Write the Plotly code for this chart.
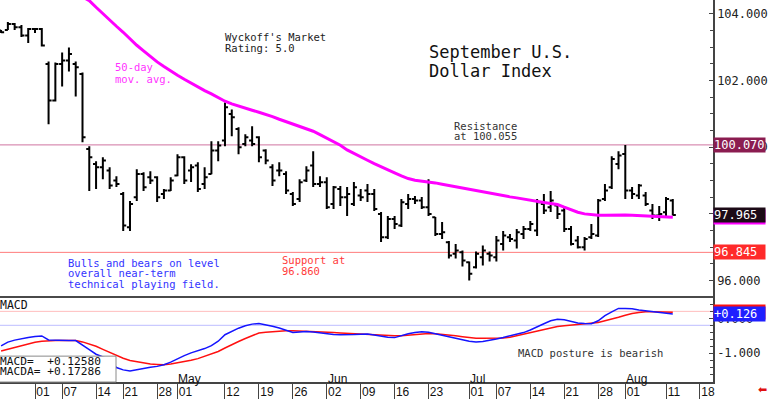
import pandas as pd
import plotly.graph_objects as go

# ---------------- categories (trading days; Good Friday closed) ----------------
HOLIDAYS = ["2025-04-18"]
axis_dates = [d.strftime("%Y-%m-%d") for d in pd.bdate_range("2025-03-25", "2025-08-22")
              if d.strftime("%Y-%m-%d") not in HOLIDAYS]

# ---------------- September U.S. Dollar Index daily bars ----------------
opens = [103.50, 103.52, 103.70, 103.60, 103.35,
         103.55, 103.55, 102.50, 101.40, 102.50, 102.60, 102.50, 102.20, 99.95, 99.50,
         99.40, 99.30, 99.00, 98.60, 97.60, 98.50, 99.20, 99.10, 99.10, 98.60,
         98.70, 99.15, 99.70, 99.30, 99.45, 98.90, 99.20, 99.90, 100.20, 101.00,
         100.55, 100.10, 100.20, 100.30, 99.90, 99.40, 99.30, 99.20, 98.60, 98.45,
         99.00, 99.45, 98.90, 98.95, 98.30, 98.75, 98.50, 98.30, 98.55, 98.70,
         98.60, 98.00, 97.30, 97.85, 97.65, 98.30, 98.45, 98.40, 98.20, 97.90,
         97.40, 97.15, 96.80, 96.85, 96.55, 96.40, 96.70, 96.80, 96.70, 97.10,
         97.30, 97.20, 97.40, 97.55, 97.50, 98.30, 98.20, 98.25, 98.10, 97.55,
         97.20, 97.00, 97.30, 97.35, 98.45, 98.80, 99.50, 99.80, 98.70, 98.55,
         98.55, 98.10, 97.95, 98.05, 98.40]
highs = [103.52, 103.76, 103.73, 103.67, 103.58,
         103.58, 103.58, 102.57, 102.54, 102.84, 102.99, 102.57, 102.24, 100.03, 99.58,
         99.70, 99.40, 99.13, 98.66, 98.39, 99.34, 99.25, 99.28, 99.13, 98.75,
         99.10, 99.79, 99.73, 99.49, 99.55, 99.40, 100.18, 100.18, 101.34, 101.13,
         100.60, 100.39, 100.63, 100.33, 99.94, 99.49, 99.55, 99.28, 98.66, 99.04,
         99.43, 99.88, 99.13, 99.10, 98.84, 98.84, 98.81, 98.96, 98.75, 98.90,
         98.75, 98.06, 97.94, 97.94, 98.45, 98.60, 98.54, 98.51, 99.04, 97.91,
         97.76, 97.19, 97.10, 96.90, 96.57, 96.87, 97.05, 96.87, 97.34, 97.49,
         97.40, 97.55, 97.64, 97.79, 98.45, 98.60, 98.69, 98.30, 98.24, 97.64,
         97.34, 97.31, 97.70, 98.45, 98.90, 99.73, 99.88, 100.07, 98.81, 98.90,
         98.66, 98.30, 98.24, 98.51, 98.45]
lows = [103.43, 103.52, 103.52, 103.31, 103.13,
        103.43, 103.02, 100.69, 101.37, 101.82, 102.27, 101.52, 100.15, 98.69, 98.75,
        99.04, 98.75, 98.81, 97.49, 97.49, 98.39, 98.69, 98.90, 98.36, 98.45,
        98.69, 99.13, 98.90, 98.96, 98.66, 98.75, 99.19, 99.58, 100.03, 100.33,
        99.79, 100.03, 100.03, 99.55, 99.49, 98.84, 99.13, 98.60, 98.24, 98.36,
        98.96, 98.81, 98.81, 98.15, 98.15, 98.24, 97.94, 98.24, 98.39, 98.36,
        98.09, 97.16, 97.25, 97.55, 97.61, 98.15, 98.30, 98.15, 97.94, 97.34,
        97.25, 96.66, 96.66, 96.42, 96.00, 96.36, 96.45, 96.57, 96.57, 96.90,
        97.16, 96.96, 97.25, 97.49, 97.34, 98.00, 98.06, 97.85, 97.46, 97.05,
        96.96, 96.90, 97.25, 97.31, 98.39, 98.75, 99.34, 98.45, 98.45, 98.45,
        98.24, 97.85, 97.79, 97.91, 97.95]
closes = [103.45, 103.70, 103.60, 103.35, 103.55,
          103.55, 103.05, 101.40, 102.50, 102.60, 102.80, 102.40, 100.30, 99.70, 99.40,
          99.60, 98.85, 98.90, 97.65, 98.30, 99.20, 98.80, 99.00, 98.50, 98.70,
          99.00, 99.70, 99.00, 99.40, 98.75, 99.10, 99.90, 100.05, 101.20, 100.90,
          100.00, 100.30, 100.10, 99.70, 99.60, 99.00, 99.30, 98.70, 98.30, 98.95,
          99.30, 98.90, 98.95, 98.20, 98.80, 98.50, 98.60, 98.80, 98.50, 98.60,
          98.15, 97.30, 97.85, 97.70, 98.35, 98.45, 98.40, 98.20, 98.00, 97.40,
          97.45, 96.75, 96.90, 96.60, 96.20, 96.80, 96.90, 96.75, 97.20, 97.35,
          97.25, 97.45, 97.55, 97.70, 98.35, 98.10, 98.40, 98.00, 97.55, 97.10,
          97.00, 97.25, 97.40, 98.40, 98.70, 99.65, 99.75, 98.70, 98.60, 98.85,
          98.30, 97.95, 98.00, 98.45, 97.965]

# 50-day moving average (None where above the visible range / not drawn)
ma50 = [None] * 11 + [
    104.62, 104.51, 104.40, 104.20, 104.00, 103.82, 103.63, 103.45, 103.24, 103.06,
    102.89, 102.72, 102.56, 102.42, 102.28, 102.16, 102.04, 101.92, 101.81, 101.70,
    101.60, 101.48, 101.38, 101.30, 101.23, 101.17, 101.11, 101.05, 100.99, 100.92,
    100.84, 100.77, 100.69, 100.63, 100.57, 100.48, 100.38, 100.27, 100.16, 100.06,
    99.92, 99.81, 99.71, 99.61, 99.51, 99.41, 99.32, 99.23, 99.14, 99.06,
    99.01, 98.99, 98.96, 98.93, 98.89, 98.85, 98.81, 98.78, 98.74, 98.70,
    98.66, 98.62, 98.59, 98.55, 98.51, 98.48, 98.44, 98.40, 98.37, 98.34,
    98.31, 98.28, 98.20, 98.12, 98.05, 98.00, 97.97, 97.96, 97.96, 97.97,
    97.97, 97.97, 97.96, 97.95, 97.94, 97.93, 97.92, 97.91, 97.90]

# MACD and its signal line (MACDA)
macd = [-0.791, -0.683, -0.626, -0.583, -0.549, -0.520, -0.506, -0.620, -0.631, -0.637,
        -0.637, -0.637, -0.757, -0.900, -1.031, -1.114, -1.189, -1.414, -1.480, -1.511,
        -1.469, -1.434, -1.406, -1.380, -1.334, -1.257, -1.157, -1.071, -0.991, -0.940,
        -0.869, -0.783, -0.657, -0.471, -0.369, -0.283, -0.214, -0.166, -0.146, -0.180,
        -0.229, -0.280, -0.337, -0.409, -0.394, -0.380, -0.391, -0.417, -0.457, -0.463,
        -0.471, -0.477, -0.466, -0.457, -0.451, -0.480, -0.511, -0.546, -0.554, -0.497,
        -0.443, -0.406, -0.383, -0.397, -0.437, -0.477, -0.517, -0.569, -0.617, -0.660,
        -0.683, -0.663, -0.637, -0.591, -0.549, -0.500, -0.449, -0.409, -0.334, -0.234,
        -0.154, -0.071, -0.026, -0.043, -0.091, -0.131, -0.151, -0.154, -0.071, 0.077,
        0.186, 0.286, 0.286, 0.274, 0.240, 0.214, 0.191, 0.163, 0.137, 0.12580]
macda = [-0.940, -0.886, -0.829, -0.777, -0.729, -0.686, -0.657, -0.637, -0.637, -0.637,
         -0.637, -0.637, -0.677, -0.734, -0.803, -0.891, -0.977, -1.060, -1.146, -1.209,
         -1.249, -1.286, -1.311, -1.323, -1.331, -1.309, -1.280, -1.249, -1.203, -1.157,
         -1.094, -1.026, -0.951, -0.851, -0.751, -0.666, -0.580, -0.497, -0.420, -0.400,
         -0.380, -0.363, -0.354, -0.357, -0.363, -0.369, -0.377, -0.386, -0.397, -0.409,
         -0.420, -0.431, -0.446, -0.457, -0.469, -0.480, -0.491, -0.497, -0.503, -0.500,
         -0.480, -0.460, -0.443, -0.434, -0.446, -0.460, -0.474, -0.500, -0.526, -0.551,
         -0.571, -0.571, -0.571, -0.571, -0.566, -0.540, -0.497, -0.451, -0.403, -0.357,
         -0.314, -0.271, -0.234, -0.211, -0.189, -0.169, -0.149, -0.134, -0.120, -0.069,
         -0.026, 0.029, 0.086, 0.140, 0.166, 0.189, 0.186, 0.180, 0.171, 0.17286]

# levels
resistance_level = 100.070
support_level = 96.845
macd_upper_ref = 0.2
macd_lower_ref = -0.2

# axis ticks
price_ticks = [96, 98, 100, 102, 104]
macd_ticks = [-1, 0]
macd_tick_text = ["-1.000", "0.000"]
tick_dates = ["2025-04-01", "2025-04-07", "2025-04-14", "2025-04-21", "2025-04-28",
              "2025-05-01", "2025-05-12", "2025-05-19", "2025-05-26", "2025-06-02",
              "2025-06-09", "2025-06-16", "2025-06-23", "2025-07-01", "2025-07-07",
              "2025-07-14", "2025-07-21", "2025-07-28", "2025-08-01", "2025-08-11",
              "2025-08-18"]
tick_labels = ["01", "07", "14", "21", "28", "01", "12", "19", "26", "02", "09", "16",
               "23", "01", "07", "14", "21", "28", "01", "11", "18"]
month_dates = ["2025-05-01", "2025-06-02", "2025-07-01", "2025-08-01"]
month_labels = ["May", "Jun", "Jul", "Aug"]

# ---------------- build ----------------
dates = axis_dates[:len(closes)]
xpos = [axis_dates.index(d) for d in dates]
tick_pos = [axis_dates.index(d) for d in tick_dates]
month_pos = [axis_dates.index(d) for d in month_dates]

W, H = 768, 399
ML, MR, MT, MB = 0, 55, 0, 15
PW, PH = W - ML - MR, H - MT - MB
MAIN_BOTTOM = 298  # px from top
split = 1 - MAIN_BOTTOM / PH
x_range = [axis_dates.index("2025-04-01") - 35 / 6.785,
           axis_dates.index("2025-04-01") + 678 / 6.785]

MONO = "DejaVu Sans Mono"
SANS = "Liberation Sans"

fig = go.Figure()
fig.add_trace(go.Ohlc(
    x=xpos, open=opens, high=highs, low=lows, close=closes,
    increasing=dict(line=dict(color="#000000", width=2)),
    decreasing=dict(line=dict(color="#000000", width=2)),
    tickwidth=0.45, xaxis="x", yaxis="y", hoverinfo="skip"))
fig.add_trace(go.Scatter(x=xpos, y=ma50, mode="lines", line=dict(color="#ff00ff", width=3),
                         xaxis="x", yaxis="y", hoverinfo="skip"))
fig.add_trace(go.Scatter(x=xpos, y=macda, mode="lines", line=dict(color="#ff1010", width=1.5),
                         xaxis="x2", yaxis="y2", hoverinfo="skip"))
fig.add_trace(go.Scatter(x=xpos, y=macd, mode="lines", line=dict(color="#1414ff", width=1.5),
                         xaxis="x2", yaxis="y2", hoverinfo="skip"))


def px(x):
    return x / PW


def py(y):
    return 1 - y / PH


ann = []


def text(x, y, s, color="#222222", size=10.5, family=MONO):
    ann.append(dict(xref="paper", yref="paper", x=px(x), y=py(y), xanchor="left",
                    yanchor="middle", text=s, showarrow=False,
                    font=dict(family=family, size=size, color=color)))


text(223, 37.5, "Wyckoff's Market")
text(223, 48, "Rating: 5.0")
text(427, 52.5, "September U.S.", size=17, color="#111111")
text(427, 71, "Dollar Index", size=17, color="#111111")
text(113, 67.5, "50-day", color="#ff33ff")
text(113, 79, "mov. avg.", color="#ff33ff")
text(452, 127, "Resistance", color="#333333")
text(452, 137, "at 100.055", color="#333333")
text(280, 261, "Support at", color="#ff3b3b")
text(280, 272, "96.860", color="#ff3b3b")
text(66, 264, "Bulls and bears on level", color="#3333ff")
text(66, 274.5, "overall near-term", color="#3333ff")
text(66, 285, "technical playing field.", color="#3333ff")
text(516, 355, "MACD posture is bearish", color="#333333")
text(-2, 307, "MACD", color="#111111", size=11.5)
text(-2, 363, f"MACD=  {macd[-1]:+.5f}", color="#111111", size=11.2)
text(-2, 373.5, f"MACDA= {macda[-1]:+.5f}", color="#111111", size=11.2)

for p, lab in zip(month_pos, month_labels):
    ann.append(dict(xref="x2", yref="y2 domain", x=p, y=0, xanchor="left", yanchor="bottom",
                    xshift=-1, yshift=-6, text=lab, showarrow=False,
                    font=dict(family=SANS, size=12, color="#111111")))


def right_label(yref, val, s, bg):
    ann.append(dict(xref="paper", x=1, xanchor="left", yref=yref, y=val, yanchor="middle",
                    text=s, showarrow=False, bgcolor=bg, width=51, align="left",
                    borderpad=0, font=dict(family=MONO, size=12, color="#ffffff")))


right_label("y", resistance_level, f"{resistance_level:.3f}", "#8b1c50")
right_label("y", ma50[-1], f"{ma50[-1]:.3f}", "#ff00ff")
right_label("y", closes[-1], f"{closes[-1]:.3f}", "#1c0a16")
right_label("y", support_level, f"{support_level:.3f}", "#ff2a2a")
right_label("y2", macda[-1], f"{macda[-1]:+.3f}", "#ff1010")
right_label("y2", macd[-1], f"{macd[-1]:+.3f}", "#1f1fff")

ann.append(dict(xref="paper", yref="paper", x=px(762), y=py(392), xanchor="center",
                yanchor="middle", text="\u2b05", showarrow=False,
                font=dict(family="DejaVu Sans", size=11, color="#e01010")))

shapes = [
    dict(type="line", xref="paper", x0=0, x1=1, yref="y", y0=resistance_level, y1=resistance_level,
         line=dict(color="#cf73a0", width=1), layer="below"),
    dict(type="line", xref="paper", x0=0, x1=1, yref="y", y0=support_level, y1=support_level,
         line=dict(color="#ff7b7b", width=1), layer="below"),
    dict(type="line", xref="paper", x0=0, x1=1, yref="y2", y0=macd_upper_ref, y1=macd_upper_ref,
         line=dict(color="#ffbdbd", width=1), layer="below"),
    dict(type="line", xref="paper", x0=0, x1=1, yref="y2", y0=macd_lower_ref, y1=macd_lower_ref,
         line=dict(color="#bdbdff", width=1), layer="below"),
    dict(type="rect", xref="paper", yref="paper", x0=-0.01, x1=px(116), y0=0, y1=py(358),
         line=dict(color="#8a8a8a", width=1), fillcolor="#ffffff", layer="above"),
]

axis_font = dict(family=MONO, size=12, color="#222222")
fig.update_layout(
    width=W, height=H, margin=dict(l=ML, r=MR, t=MT, b=MB),
    paper_bgcolor="#ffffff", plot_bgcolor="#ffffff", showlegend=False, hovermode=False,
    xaxis=dict(domain=[0, 1], range=x_range, anchor="y", showline=True, linecolor="#4a4a4a",
               linewidth=2, ticks="", showticklabels=False, showgrid=False, zeroline=False,
               rangeslider=dict(visible=False), fixedrange=True),
    yaxis=dict(domain=[split, 1], range=[104.418 - MAIN_BOTTOM / 33.5, 104.418], side="right",
               anchor="x", tickvals=price_ticks, tickformat=".3f", ticks="inside", ticklen=4,
               tickcolor="#444444", showline=True, linecolor="#444444", linewidth=1.5,
               minor=dict(dtick=0.5, tick0=0, ticks="inside", ticklen=3, tickcolor="#444444"),
               showgrid=False, zeroline=False, tickfont=axis_font),
    xaxis2=dict(domain=[0, 1], range=x_range, anchor="y2", showline=True, linecolor="#444444",
                linewidth=1.5, tickvals=tick_pos, ticktext=tick_labels, ticks="outside",
                ticklen=15, tickcolor="#444444", tickwidth=1, ticklabelstandoff=-17,
                ticklabelshift=8, showgrid=False, zeroline=False,
                tickfont=dict(family=SANS, size=12, color="#111111")),
    yaxis2=dict(domain=[0, split], range=[(320 - 384) / 35, (320 - MAIN_BOTTOM) / 35],
                side="right", anchor="x2", tickvals=macd_ticks, ticktext=macd_tick_text,
                ticks="inside", ticklen=4, tickcolor="#444444", showline=True,
                linecolor="#444444", linewidth=1.5,
                minor=dict(dtick=0.2, tick0=0, ticks="inside", ticklen=3, tickcolor="#444444"),
                showgrid=False, zeroline=False, tickfont=axis_font),
    annotations=ann, shapes=shapes,
)

fig.write_html("out.html", config={"displayModeBar": False},
               post_script="document.body.style.margin='0';document.body.style.overflow='hidden';")
